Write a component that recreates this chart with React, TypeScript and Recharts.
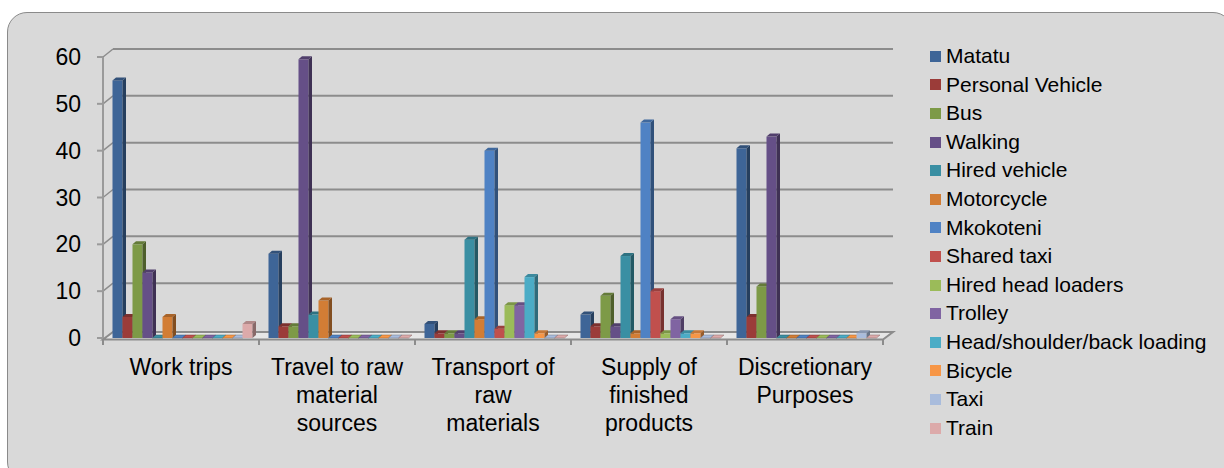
import React from 'react';
import { BarChart, Bar, XAxis, YAxis, CartesianGrid } from 'recharts';

// categories (line breaks as wrapped in the original)
const categories = [
  'Work trips',
  'Travel to raw\nmaterial\nsources',
  'Transport of\nraw\nmaterials',
  'Supply of\nfinished\nproducts',
  'Discretionary\nPurposes',
];

const yTicks = [0, 10, 20, 30, 40, 50, 60];

// one array per mode, same order as categories
const matatu = [55, 18, 3, 5, 40.5];
const personalVehicle = [4.5, 2.5, 1, 2.5, 4.5];
const bus = [20, 2.5, 1, 9, 11];
const walking = [14, 59.5, 1, 2.5, 43];
const hiredVehicle = [0, 5, 21, 17.5, 0];
const motorcycle = [4.5, 8, 4, 1, 0];
const mkokoteni = [0, 0, 40, 46, 0];
const sharedTaxi = [0, 0, 2, 10, 0];
const hiredHeadLoaders = [0, 0, 7, 1, 0];
const trolley = [0, 0, 7, 4, 0];
const headLoading = [0, 0, 13, 1, 0];
const bicycle = [0, 0, 1, 1, 0];
const taxi = [0, 0, 0, 0, 1];
const train = [3, 0, 0, 0, 0];

const seriesNames = [
  'Matatu', 'Personal Vehicle', 'Bus', 'Walking', 'Hired vehicle', 'Motorcycle', 'Mkokoteni',
  'Shared taxi', 'Hired head loaders', 'Trolley', 'Head/shoulder/back loading', 'Bicycle', 'Taxi', 'Train',
];
const seriesValues = [
  matatu, personalVehicle, bus, walking, hiredVehicle, motorcycle, mkokoteni,
  sharedTaxi, hiredHeadLoaders, trolley, headLoading, bicycle, taxi, train,
];
const COLORS = [
  '#3e6597', '#9b3c39', '#7d9a47', '#654f87', '#3a8fa3', '#d27d35', '#4f82c4',
  '#c0504d', '#9bbb59', '#8064a2', '#4bacc6', '#f79646', '#a9bcdc', '#dcaaaa',
];

const data = categories.map((name, i) => {
  const row: any = { name };
  seriesNames.forEach((s, k) => { row[s] = seriesValues[k][i]; });
  return row;
});

const FONT = '"Liberation Sans", Arial, sans-serif';
const W = 1224;
const H = 468;
const MARGIN = { top: 57, right: 341, bottom: 0, left: 0 };
const X_AXIS_H = 130;
const PLOT_BOTTOM = H - MARGIN.bottom - X_AXIS_H;
const DEPTH_X = 10; // back wall offset
const DEPTH_Y = 8;

// darken a hex colour
const shade = (hex: string, f: number) => {
  const n = parseInt(hex.slice(1), 16);
  const r = Math.round(((n >> 16) & 255) * f);
  const g = Math.round(((n >> 8) & 255) * f);
  const b = Math.round((n & 255) * f);
  return `rgb(${r},${g},${b})`;
};

// fake 3D column: front face, right side, top
const Bar3D = (props: any) => {
  const { x, y, width, height, fill } = props;
  const d = 3.5;
  const up = 3;
  const X = x + 1.5;
  const side = shade(fill, 0.62);
  const top = shade(fill, 0.8);
  if (!height || height < 0.5) {
    const by = y + (height || 0);
    return (
      <polygon
        points={`${X},${by} ${X + d},${by - up} ${X + width + d},${by - up} ${X + width},${by}`}
        fill={fill}
        stroke={side}
        strokeWidth={0.5}
      />
    );
  }
  return (
    <g>
      <rect x={X} y={y} width={width} height={height} fill={fill} />
      <polygon
        points={`${X + width},${y} ${X + width + d},${y - up} ${X + width + d},${y + height - up} ${X + width},${y + height}`}
        fill={side}
      />
      <polygon points={`${X},${y} ${X + d},${y - up} ${X + width + d},${y - up} ${X + width},${y}`} fill={top} />
    </g>
  );
};

// gridlines drawn on the back wall, floor for the zero line
const GridLine = (p: any) => {
  const { x1, x2, y1, key } = p;
  if (Math.abs(y1 - PLOT_BOTTOM) < 1) {
    const fy = y1 - 6;
    const ticks = categories.map((_, i) => x1 + ((x2 - x1) * (i + 1)) / categories.length);
    return (
      <g key={key}>
        <polygon
          points={`${x1},${y1 + 1.5} ${x2},${y1 + 1.5} ${x2 + DEPTH_X},${fy} ${x1 + DEPTH_X},${fy}`}
          fill="#e6e6e6"
          stroke="#8c8c8c"
          strokeWidth={2}
        />
        {[x1, ...ticks].map((tx, i) => (
          <line key={i} x1={tx} x2={tx} y1={y1 + 1.5} y2={y1 + 7} stroke="#8c8c8c" strokeWidth={2} />
        ))}
      </g>
    );
  }
  return (
    <g key={key}>
      <line x1={x1} y1={y1} x2={x1 + DEPTH_X} y2={y1 - DEPTH_Y} stroke="#8c8c8c" strokeWidth={1.5} />
      <line x1={x1 + DEPTH_X} y1={y1 - DEPTH_Y} x2={x2 + DEPTH_X} y2={y1 - DEPTH_Y} stroke="#8c8c8c" strokeWidth={2} />
    </g>
  );
};

const CategoryTick = ({ x, y, payload }: any) => {
  const lines = String(payload.value).split('\n');
  return (
    <text x={x} y={y + 37} textAnchor="middle" fontSize={23} fontFamily={FONT} fill="#000">
      {lines.map((l, i) => (
        <tspan key={i} x={x} dy={i === 0 ? 0 : 28}>{l}</tspan>
      ))}
    </text>
  );
};

const App: React.FC = () => {
  return (
    <div style={{ position: 'absolute', left: 0, top: 0, width: W, height: H, overflow: 'hidden', background: '#fff' }}>
      <div
        style={{
          position: 'absolute', left: 7, top: 12, width: W, height: H,
          borderRadius: 20, border: '1.5px solid #8a8a8a', background: '#d9d9d9',
        }}
      />
      <div style={{ position: 'absolute', left: 0, top: 0 }}>
        <BarChart width={W} height={H} data={data} margin={MARGIN} barGap={0} barCategoryGap={8}>
          <CartesianGrid vertical={false} horizontal={GridLine} />
          <XAxis
            dataKey="name"
            interval={0}
            height={X_AXIS_H}
            axisLine={false}
            tickLine={false}
            tickSize={0}
            tickMargin={0}
            tick={<CategoryTick />}
          />
          <YAxis
            width={103}
            domain={[0, 60]}
            ticks={yTicks}
            interval={0}
            axisLine={{ stroke: '#9a9a9a', strokeWidth: 2 }}
            tickLine={{ stroke: '#9a9a9a', strokeWidth: 2 }}
            tickSize={6}
            tickMargin={16}
            tick={{ fontSize: 23, fontFamily: FONT, fill: '#000' }}
          />
          {seriesNames.map((s, k) => (
            <Bar key={s} dataKey={s} fill={COLORS[k]} barSize={10} shape={<Bar3D />} isAnimationActive={false} />
          ))}
        </BarChart>
      </div>
      <div style={{ position: 'absolute', left: 930, top: 42, fontFamily: FONT, fontSize: 21, color: '#000' }}>
        {seriesNames.map((s, k) => (
          <div key={s} style={{ height: 28.6, lineHeight: '28.6px', display: 'flex', alignItems: 'center', whiteSpace: 'nowrap' }}>
            <span style={{ width: 11, height: 11, background: COLORS[k], marginRight: 5, display: 'inline-block' }} />
            {s}
          </div>
        ))}
      </div>
    </div>
  );
};

export default App;
